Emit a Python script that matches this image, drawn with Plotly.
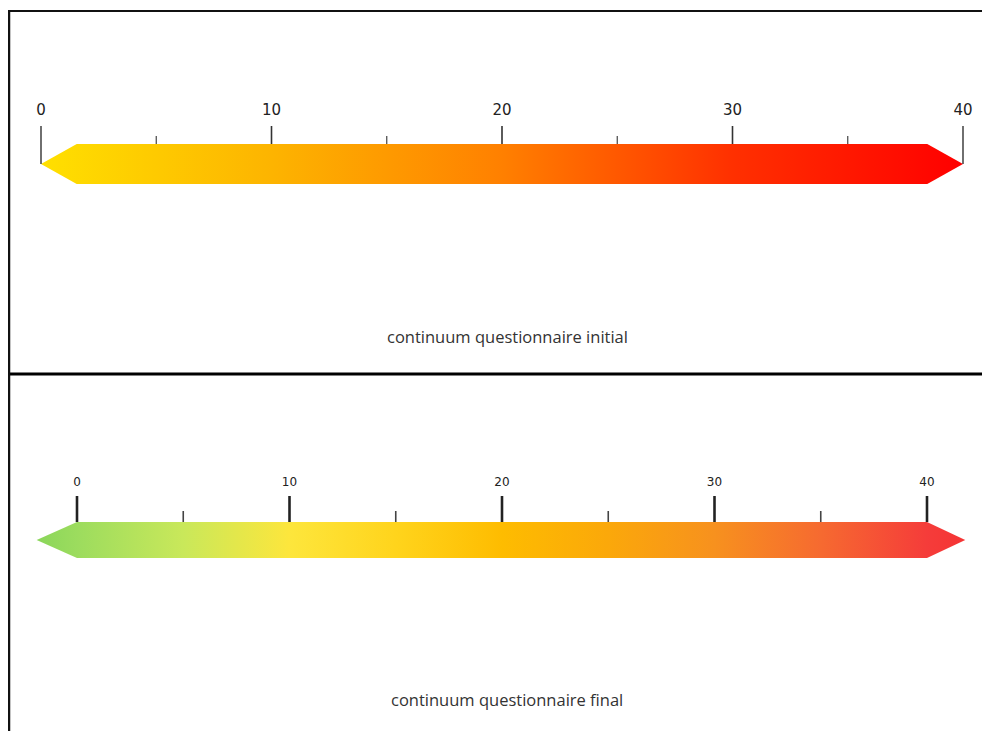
import plotly.graph_objects as go

# ---- data ----
scale_ticks = [0, 10, 20, 30, 40]
tick_labels = ["0", "10", "20", "30", "40"]
minor_ticks = [5, 15, 25, 35]

top_stop_values = [0, 10, 20, 30, 40]
top_stop_colors = ["#FFE000", "#FDB400", "#FF8000", "#FF3000", "#FF0000"]

bottom_stop_values = [-1.9, 0, 5, 10, 15, 20, 25, 30, 35, 40, 41.8]
bottom_stop_colors = ["#8AD65A", "#9CDC5E", "#C9E85A", "#FDE63C", "#FFD41C", "#FEBC00",
                      "#FBA80A", "#F7911E", "#F66A30", "#F53C3A", "#F53434"]

captions = ["continuum questionnaire initial", "continuum questionnaire final"]

# page body has an 8px margin: figure is drawn 8px in from the window edge
OFF = 8
W, H = 990 - OFF, 731 - OFF
fig = go.Figure()


def py(v):
    return v - OFF


def colorscale(values, colors):
    lo, hi = values[0], values[-1]
    return [[(v - lo) / (hi - lo), c] for v, c in zip(values, colors)]


def segs(xs, y0, y1):
    X, Y = [], []
    for x in xs:
        X += [x, x, None]
        Y += [py(y0), py(y1), None]
    return X, Y


# ---- top panel (xaxis) ----
lo, hi = scale_ticks[0], scale_ticks[-1]
inset = 1.55
ytop, ybot, ymid = 144, 184, 164
fig.add_trace(go.Scatter(
    x=[lo, lo + inset, hi - inset, hi, hi - inset, lo + inset, lo],
    y=[py(v) for v in [ymid, ytop, ytop, ymid, ybot, ybot, ymid]],
    mode="lines", line=dict(width=0), fill="toself",
    fillgradient=dict(type="horizontal", colorscale=colorscale(top_stop_values, top_stop_colors),
                      start=top_stop_values[0], stop=top_stop_values[-1]),
    hoverinfo="skip", xaxis="x", yaxis="y", showlegend=False))
X, Y = segs(scale_ticks[1:-1], 126, ytop)
fig.add_trace(go.Scatter(x=X, y=Y, mode="lines", line=dict(color="#333", width=1.6),
                         hoverinfo="skip", xaxis="x", yaxis="y", showlegend=False))
X, Y = segs([scale_ticks[0], scale_ticks[-1]], 126, ymid)
fig.add_trace(go.Scatter(x=X, y=Y, mode="lines", line=dict(color="#333", width=1.4),
                         hoverinfo="skip", xaxis="x", yaxis="y", showlegend=False))
X, Y = segs(minor_ticks, 136, ytop)
fig.add_trace(go.Scatter(x=X, y=Y, mode="lines", line=dict(color="#444", width=1.2),
                         hoverinfo="skip", xaxis="x", yaxis="y", showlegend=False))
fig.add_trace(go.Scatter(x=scale_ticks, y=[py(111)] * len(scale_ticks), text=tick_labels, mode="text",
                         textfont=dict(family="DejaVu Sans", size=15, color="#222"),
                         hoverinfo="skip", xaxis="x", yaxis="y", showlegend=False))

# ---- bottom panel (xaxis2) ----
btop, bbot, bmid = 522, 558, 540
fig.add_trace(go.Scatter(
    x=[bottom_stop_values[0], lo, hi, bottom_stop_values[-1], hi, lo, bottom_stop_values[0]],
    y=[py(v) for v in [bmid, btop, btop, bmid, bbot, bbot, bmid]],
    mode="lines", line=dict(width=0), fill="toself",
    fillgradient=dict(type="horizontal", colorscale=colorscale(bottom_stop_values, bottom_stop_colors),
                      start=bottom_stop_values[0], stop=bottom_stop_values[-1]),
    hoverinfo="skip", xaxis="x2", yaxis="y", showlegend=False))
X, Y = segs(scale_ticks, 496, btop)
fig.add_trace(go.Scatter(x=X, y=Y, mode="lines", line=dict(color="#222", width=2.6),
                         hoverinfo="skip", xaxis="x2", yaxis="y", showlegend=False))
X, Y = segs(minor_ticks, 511, btop)
fig.add_trace(go.Scatter(x=X, y=Y, mode="lines", line=dict(color="#444", width=1.6),
                         hoverinfo="skip", xaxis="x2", yaxis="y", showlegend=False))
fig.add_trace(go.Scatter(x=scale_ticks, y=[py(483)] * len(scale_ticks), text=tick_labels, mode="text",
                         textfont=dict(family="DejaVu Sans", size=12, color="#222"),
                         hoverinfo="skip", xaxis="x2", yaxis="y", showlegend=False))

# ---- captions ----
for txt, yy in zip(captions, [337, 699]):
    fig.add_annotation(x=(507 - OFF) / W, y=1 - py(yy) / H, xref="paper", yref="paper", text=txt,
                       xanchor="center", yanchor="middle",
                       showarrow=False, font=dict(family="Open Sans", size=16.5, color="#333"))

# ---- panel borders ----
fig.add_shape(type="line", xref="paper", yref="paper", line=dict(color="#111", width=2),
              x0=py(9) / W, x1=1, y0=1 - py(11) / H, y1=1 - py(11) / H)
fig.add_shape(type="line", xref="paper", yref="paper", line=dict(color="#000", width=3),
              x0=py(9) / W, x1=1, y0=1 - py(374) / H, y1=1 - py(374) / H)
fig.add_shape(type="line", xref="paper", yref="paper", line=dict(color="#111", width=2.5),
              x0=py(9) / W, x1=py(9) / W, y0=1 - py(10) / H, y1=0)

# top: screen px = 41 + 23.05*x ; bottom: screen px = 77 + 21.25*x
fig.update_layout(
    width=W, height=H, margin=dict(l=0, r=0, t=0, b=0),
    paper_bgcolor="white", plot_bgcolor="white",
    xaxis=dict(range=[-(41 - OFF) / 23.05, (W - (41 - OFF)) / 23.05], visible=False, domain=[0, 1]),
    xaxis2=dict(range=[-(77 - OFF) / 21.25, (W - (77 - OFF)) / 21.25], visible=False,
                overlaying="x", anchor="y"),
    yaxis=dict(range=[H, 0], visible=False, domain=[0, 1]),
)

fig.write_html("out.html")
